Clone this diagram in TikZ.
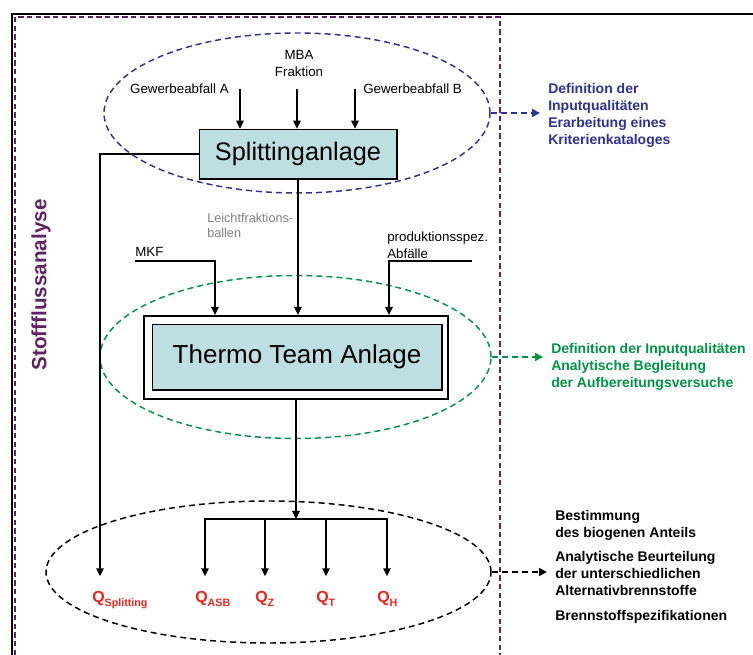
\documentclass[tikz,border=0pt]{standalone}
\usepackage{fontspec}
\setmainfont{Liberation Sans}
\usetikzlibrary{arrows.meta,shapes.geometric}
\definecolor{lila}{RGB}{94,35,100}
\definecolor{blau}{RGB}{46,49,146}
\definecolor{gruen}{RGB}{0,146,69}
\definecolor{rot}{RGB}{230,38,30}
\definecolor{kasten}{RGB}{189,223,226}
\newcommand{\qsub}[1]{Q\raisebox{-3pt}{\fontsize{8}{9}\selectfont #1}}
\tikzset{
	flow/.style={line width=1.2pt, -{Triangle[length=6pt,width=5.5pt]}},
	hinweis/.style={line width=1.4pt, dash pattern=on 4.5pt off 3pt, shorten >=6pt, -{Triangle[length=6pt,width=6pt]}},
	zone/.style={ellipse, line width=1.1pt, dash pattern=on 4.5pt off 3pt, inner sep=0pt},
	anlage/.style={draw=black, thin, fill=kasten, inner sep=0pt},
	lab/.style={inner sep=0pt, font=\fontsize{10}{12.5}\selectfont},
	erg/.style={inner sep=0pt, anchor=north west, text=rot, font=\bfseries\fontsize{12}{13}\selectfont},
	info/.style={inner sep=0pt, align=left, anchor=north west, font=\bfseries\fontsize{10.5}{12.75}\selectfont}
}
\begin{document}
\begin{tikzpicture}[x=0.75pt, y=-0.75pt]
	\useasboundingbox (0,0) rectangle (753,655);
	\draw[line width=1.5pt] (753,14) -- (12,14) -- (12,655);
	\draw[lila, line width=1.3pt, dash pattern=on 4pt off 2.5pt] (15,655) -- (15,17) -- (500,17) -- (500,655);
	\node[rotate=90, text=lila, font=\bfseries\fontsize{15.5}{17}\selectfont] (sfa) at (41,285) {Stoffflussanalyse};

	\node[zone, draw=blau, minimum width=289.5pt, minimum height=120pt] (eblue) at (297,113) {};
	\node[zone, draw=gruen, minimum width=293.25pt, minimum height=122.25pt] (egreen) at (295.5,357) {};
	\node[zone, draw=black, minimum width=333.75pt, minimum height=106.5pt] (eblack) at (268.5,572) {};

	\node[anlage, minimum width=148.5pt, minimum height=37.5pt, font=\fontsize{19}{22}\selectfont] (split) at (298,154) {Splittinganlage};
	\draw[line width=1.5pt] (split.south west) -- (split.south east) -- (split.north east);
	\node[draw, line width=1.5pt, minimum width=228pt, minimum height=62.25pt, inner sep=0pt] (thermo) at (296,357.5) {};
	\node[anlage, minimum width=217.5pt, minimum height=49.5pt, font=\fontsize{19.5}{22}\selectfont] (thermoin) at (297,357) {Thermo Team Anlage};
	\draw[line width=1.5pt] (thermoin.south west) -- (thermoin.south east) -- (thermoin.north east);

	\node[lab, anchor=base east] (gwa) at (229,94) {Gewerbeabfall A};
	\node[lab, anchor=base west] (gwb) at (363,94) {Gewerbeabfall B};
	\node[lab, align=center, anchor=north] (mba) at (299,50) {MBA\\Fraktion};
	\coordinate (ina) at (240,89);
	\coordinate (inm) at (297,89);
	\coordinate (inb) at (355,89);
	\foreach \p in {ina,inm,inb}
		\draw[flow] (\p) -- (\p |- split.north);

	\node[lab, anchor=north west, align=left, text=gray, font=\fontsize{9.5}{11.5}\selectfont] (leicht) at (207,213) {Leichtfraktions-\\ballen};
	\draw[flow] (split.south) -- (split.south |- thermo.north);
	\node[lab, anchor=base west] (mkf) at (135,257) {MKF};
	\node[lab, anchor=north west, align=left, font=\fontsize{10}{12.75}\selectfont] (prod) at (387,232) {produktionsspez.\\Abfälle};
	\coordinate (mkfin) at (135,261);
	\coordinate (prodin) at (472,261);
	\draw[flow] (mkfin) -| ([xshift=54pt]thermo.north west);
	\draw[flow] (prodin) -| ([xshift=-45pt]thermo.north east);

	\node[erg] (qspl) at (92,591) {\qsub{Splitting}};
	\node[erg] (qasb) at (195,591) {\qsub{ASB}};
	\node[erg] (qz) at (255,591) {\qsub{Z}};
	\node[erg] (qt) at (316,591) {\qsub{T}};
	\node[erg] (qh) at (377,591) {\qsub{H}};
	\draw[flow] (split.west) -| ([xshift=6pt,yshift=11pt]qspl.north west);
	\coordinate (bus) at (296,519);
	\draw[flow] (thermo.south) -- (bus);
	\foreach \q in {qasb,qz,qt,qh}
		\draw[flow] (bus) -| ([xshift=7.5pt,yshift=11pt]\q.north west);

	\node[info, text=blau] (tblue) at (548,83) {Definition der\\Inputqualitäten\\Erarbeitung eines\\Kriterienkataloges};
	\node[info, text=gruen] (tgreen) at (551,343) {Definition der Inputqualitäten\\Analytische Begleitung\\der Aufbereitungsversuche};
	\node[info] (tblack) at (555,510) {Bestimmung\\des biogenen Anteils\\[5pt]Analytische Beurteilung\\der unterschiedlichen\\Alternativbrennstoffe\\[6pt]Brennstoffspezifikationen};
	\draw[hinweis, blau] (eblue.east) -- (eblue.east -| tblue.west);
	\draw[hinweis, gruen] (egreen.east) -- (egreen.east -| tgreen.west);
	\draw[hinweis] (eblack.east) -- (eblack.east -| tblack.west);
\end{tikzpicture}
\end{document}
